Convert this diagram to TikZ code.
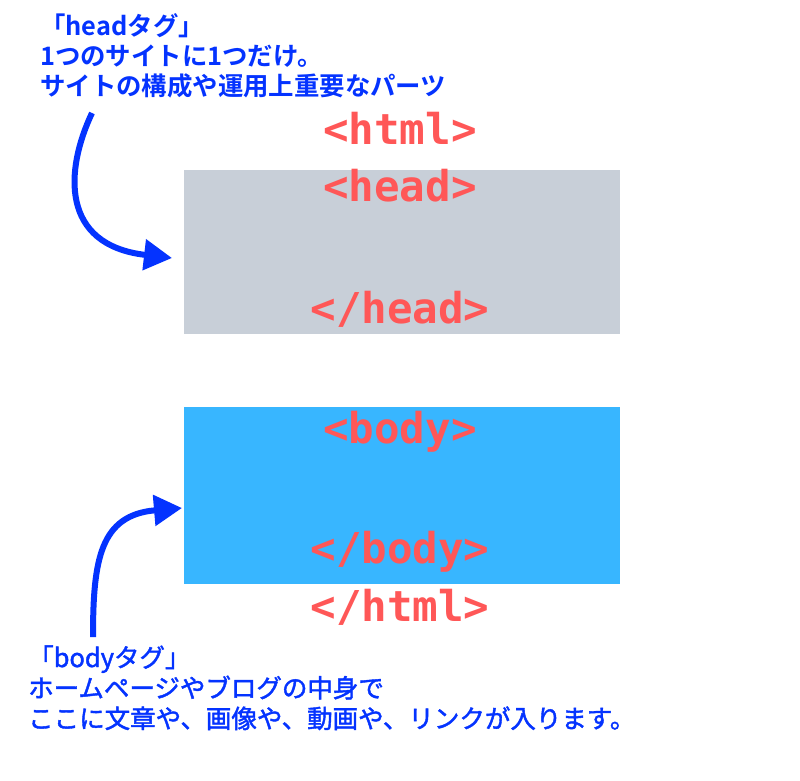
\documentclass[tikz,border=0pt]{standalone}
\usepackage{fontspec}
\usetikzlibrary{arrows.meta}
\newfontfamily\tagfont{DejaVu Sans Mono}[BoldFont={DejaVu Sans Mono Bold}]
\newfontfamily\jpbold{Noto Sans CJK JP Bold}
\newfontfamily\jpreg{Noto Sans CJK JP}[FakeBold=1.6]
\definecolor{tblue}{HTML}{0433FF}
\definecolor{tred}{HTML}{FF5757}
\definecolor{hgray}{HTML}{C8CFD8}
\definecolor{bblue}{HTML}{38B6FF}
\tikzset{
  tagtext/.style={anchor=base, inner sep=0pt, text=tred, font=\tagfont\bfseries\fontsize{42.5}{42}\selectfont},
  notetop/.style={anchor=base west, inner sep=0pt, text=tblue, font=\jpbold\fontsize{25.4}{30}\selectfont},
  notebot/.style={anchor=base west, inner sep=0pt, text=tblue, font=\jpreg\fontsize{25.5}{30}\selectfont},
  boxarea/.style={draw=none, inner sep=0pt, minimum width=436pt},
  pointer/.style={draw=tblue, line width=6pt, -{Triangle[length=28pt,width=30pt]}}
}
\begin{document}
\begin{tikzpicture}[x=1pt,y=-1pt]
\useasboundingbox[fill=white] (0,0) rectangle (800,781);
% boxes
\node[boxarea, fill=hgray, minimum height=164pt] (headbox) at (402,252) {};
\node[boxarea, fill=bblue, minimum height=177pt] (bodybox) at (402,495.5) {};
% tags
\node[tagtext] (htmlopen) at (400,144) {<html>};
\node[tagtext] (headopen) at (400,201) {<head>};
\node[tagtext] (headclose) at (400,323) {</head>};
\node[tagtext] (bodyopen) at (400,443) {<body>};
\node[tagtext] (bodyclose) at (400,563) {</body>};
\node[tagtext] (htmlclose) at (400,621) {</html>};
% notes
\node[notetop] (t1) at (40,36) {「headタグ」};
\node[notetop] (t2) at (40,66) {1つのサイトに1つだけ。};
\node[notetop] (t3) at (40,96) {サイトの構成や運用上重要なパーツ};
\node[notebot] (b1) at (28,667) {「bodyタグ」};
\node[notebot] (b2) at (28,697.5) {ホームページやブログの中身で};
\node[notebot] (b3) at (28,728) {ここに文章や、画像や、動画や、リンクが入ります。};
% arrows
\coordinate (a1s) at (92,113);
\coordinate (a1e) at (172,258);
\coordinate (a2s) at (93,637);
\coordinate (a2e) at (182,508);
\draw[pointer] (a1s) .. controls (65,170) and (60,245) .. (a1e);
\draw[pointer] (a2s) .. controls (93,560) and (100,515) .. (a2e);
\end{tikzpicture}
\end{document}
